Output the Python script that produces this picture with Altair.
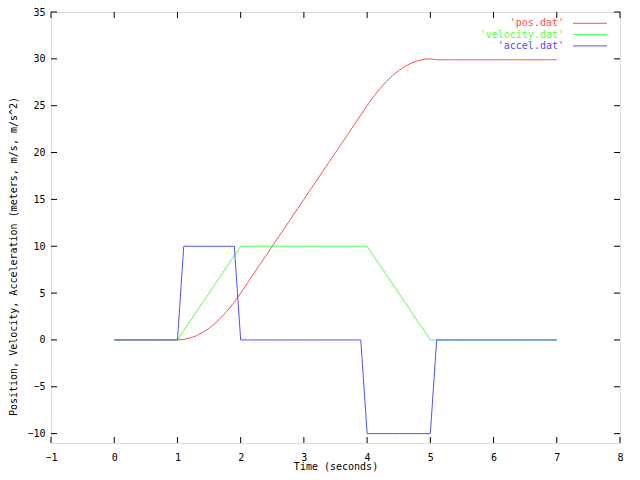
import altair as alt
import pandas as pd

# ---- data ----
time_s = [0.0, 0.1, 0.2, 0.3, 0.4, 0.5, 0.6, 0.7, 0.8, 0.9,
          1.0, 1.1, 1.2, 1.3, 1.4, 1.5, 1.6, 1.7, 1.8, 1.9,
          2.0, 2.1, 2.2, 2.3, 2.4, 2.5, 2.6, 2.7, 2.8, 2.9,
          3.0, 3.1, 3.2, 3.3, 3.4, 3.5, 3.6, 3.7, 3.8, 3.9,
          4.0, 4.1, 4.2, 4.3, 4.4, 4.5, 4.6, 4.7, 4.8, 4.9,
          5.0, 5.1, 5.2, 5.3, 5.4, 5.5, 5.6, 5.7, 5.8, 5.9,
          6.0, 6.1, 6.2, 6.3, 6.4, 6.5, 6.6, 6.7, 6.8, 6.9,
          7.0]

pos = [0, 0, 0, 0, 0, 0, 0, 0, 0, 0,
       0, 0.05, 0.2, 0.45, 0.8, 1.25, 1.8, 2.45, 3.2, 4.05,
       5.0, 6.0, 7.0, 8.0, 9.0, 10.0, 11.0, 12.0, 13.0, 14.0,
       15.0, 16.0, 17.0, 18.0, 19.0, 20.0, 21.0, 22.0, 23.0, 24.0,
       25.0, 25.95, 26.8, 27.55, 28.2, 28.75, 29.2, 29.55, 29.8, 29.95,
       30.0, 29.9, 29.9, 29.9, 29.9, 29.9, 29.9, 29.9, 29.9, 29.9,
       29.9, 29.9, 29.9, 29.9, 29.9, 29.9, 29.9, 29.9, 29.9, 29.9,
       29.9]

velocity = [0, 0, 0, 0, 0, 0, 0, 0, 0, 0,
            0, 1, 2, 3, 4, 5, 6, 7, 8, 9,
            10, 10, 10, 10, 10, 10, 10, 10, 10, 10,
            10, 10, 10, 10, 10, 10, 10, 10, 10, 10,
            10, 9, 8, 7, 6, 5, 4, 3, 2, 1,
            0, 0, 0, 0, 0, 0, 0, 0, 0, 0,
            0, 0, 0, 0, 0, 0, 0, 0, 0, 0,
            0]

accel = [0, 0, 0, 0, 0, 0, 0, 0, 0, 0,
         0, 10, 10, 10, 10, 10, 10, 10, 10, 10,
         0, 0, 0, 0, 0, 0, 0, 0, 0, 0,
         0, 0, 0, 0, 0, 0, 0, 0, 0, 0,
         -10, -10, -10, -10, -10, -10, -10, -10, -10, -10,
         -10, 0, 0, 0, 0, 0, 0, 0, 0, 0,
         0, 0, 0, 0, 0, 0, 0, 0, 0, 0,
         0]

series_names = ["'pos.dat'", "'velocity.dat'", "'accel.dat'"]
series_colors = ["#ff5050", "#50ff50", "#5050ff"]

x_ticks = [-1, 0, 1, 2, 3, 4, 5, 6, 7, 8]
y_ticks = [-10, -5, 0, 5, 10, 15, 20, 25, 30, 35]

# ---- layout ----
W, H = 569, 431
FONT = "DejaVu Sans Mono"
TICK = 6

df = pd.DataFrame({"t": time_s, "pos": pos, "velocity": velocity, "accel": accel})
xt = pd.DataFrame({"t": x_ticks})
yt = pd.DataFrame({"v": y_ticks})

xscale = alt.Scale(domain=[-1, 8], nice=False, zero=False)
yscale = alt.Scale(domain=[-11, 35], nice=False, zero=False)

XTITLE = "Time (seconds)"
YTITLE = "Position, Velocity, Acceleration (meters, m/s, m/s^2)"

xaxis = alt.Axis(values=x_ticks, title=XTITLE, domain=False, ticks=False,
                 tickSize=0, grid=False, labelFont=FONT, labelFontSize=10,
                 labelColor="black", labelBaseline="middle", labelPadding=14,
                 labelFlush=False, labelOverlap=False,
                 titleFont=FONT, titleFontSize=10, titleFontWeight="normal",
                 titleColor="black", titleBaseline="middle", titleX=W / 2, titleY=23.5)
yaxis = alt.Axis(values=y_ticks, title=YTITLE,
                 domain=False, ticks=False, tickSize=0, grid=False, labelFont=FONT,
                 labelFontSize=10, labelColor="black", labelPadding=6,
                 labelFlush=False, labelOverlap=False,
                 titleFont=FONT, titleFontSize=10, titleFontWeight="normal",
                 titleColor="black", titleAngle=270, titleAlign="center",
                 titleBaseline="middle", titleX=-37.5, titleY=244)


def X(field):
    return alt.X(field, scale=xscale, axis=xaxis, title=XTITLE)


def Y(field):
    return alt.Y(field, scale=yscale, axis=yaxis, title=YTITLE)


base = alt.Chart(df)
layers = []
for i, col in enumerate(["pos", "velocity", "accel"]):
    layers.append(base.mark_line(color=series_colors[i], strokeWidth=1, clip=True)
                  .encode(x=X("t:Q"), y=Y(f"{col}:Q")))

# inward tick marks on all four sides
tick_style = dict(color="black", strokeWidth=1)
layers.append(alt.Chart(xt).mark_rule(**tick_style).encode(
    x=X("t:Q"), y=alt.value(H), y2=alt.value(H - TICK)))
layers.append(alt.Chart(xt).mark_rule(**tick_style).encode(
    x=X("t:Q"), y=alt.value(0), y2=alt.value(TICK)))
layers.append(alt.Chart(yt).mark_rule(**tick_style).encode(
    y=Y("v:Q"), x=alt.value(0), x2=alt.value(TICK)))
layers.append(alt.Chart(yt).mark_rule(**tick_style).encode(
    y=Y("v:Q"), x=alt.value(W), x2=alt.value(W - TICK)))

# gnuplot-style key (text then line sample, top right)
row_y = [11.3, 22.6, 33.9]
for i, name in enumerate(series_names):
    kd = pd.DataFrame({"name": [name]})
    layers.append(alt.Chart(kd).mark_text(font=FONT, fontSize=10, align="right",
                                          baseline="middle", color=series_colors[i])
                  .encode(text="name:N", x=alt.value(513), y=alt.value(row_y[i])))
    layers.append(alt.Chart(kd).mark_rule(color=series_colors[i], strokeWidth=1)
                  .encode(x=alt.value(522), x2=alt.value(556), y=alt.value(row_y[i])))

chart = alt.layer(*layers).properties(
    width=W, height=H,
    padding={"left": 43, "top": 4, "right": 12, "bottom": 29},
    autosize=alt.AutoSizeParams(type="none"),
).configure_view(stroke="black", strokeWidth=1).configure(background="white")

chart.save("out.html", embed_options={"renderer": "svg", "actions": False})
